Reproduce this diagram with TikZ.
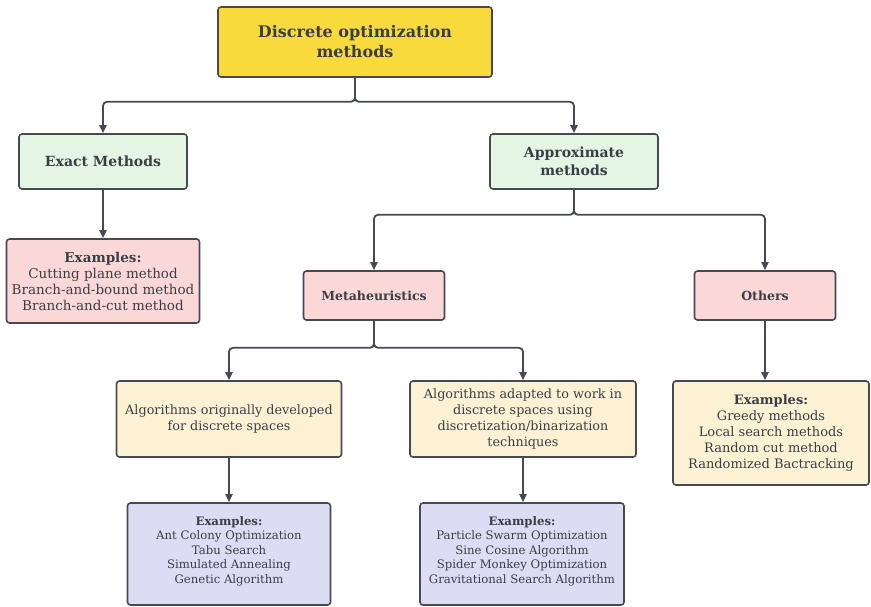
\documentclass[tikz,border=0pt]{standalone}
\usepackage{fontspec}
\setmainfont{DejaVu Serif}
\usetikzlibrary{arrows.meta}

\definecolor{inkc}{HTML}{3B3E47}
\definecolor{edgec}{HTML}{464952}
\definecolor{yellowc}{HTML}{F9DA3D}
\definecolor{greenc}{HTML}{E4F5E4}
\definecolor{pinkc}{HTML}{FBD8D8}
\definecolor{creamc}{HTML}{FCF1D3}
\definecolor{lavc}{HTML}{DCDCF4}

\tikzset{
  box/.style={draw=edgec, line width=1.6pt, rounded corners=3pt, text=inkc,
    align=center, inner sep=2pt, font=\fontsize{13}{16}\selectfont},
  headbox/.style={box, font=\bfseries\fontsize{14}{18}\selectfont},
  link/.style={draw=edgec, line width=1.8pt, rounded corners=4pt,
    -{Triangle[length=8pt,width=7pt]}},
}

\begin{document}
\begin{tikzpicture}[x=1pt,y=-1pt]
\useasboundingbox (0,0) rectangle (871,606);

% level 0
\node[headbox, fill=yellowc, minimum width=274pt, minimum height=70pt,
  font=\bfseries\fontsize{16}{20}\selectfont] (top) at (355,42)
  {Discrete optimization\\methods};

% level 1
\node[headbox, fill=greenc, minimum width=168pt, minimum height=55pt]
  (exact) at (103,161.5) {Exact Methods};
\node[headbox, fill=greenc, minimum width=168pt, minimum height=55pt]
  (approx) at (574,161.5) {Approximate\\methods};

% exact examples
\node[box, fill=pinkc, minimum width=193pt, minimum height=84pt,
  font=\fontsize{13.5}{16}\selectfont]
  (exex) at (103,281)
  {\textbf{Examples:}\\Cutting plane method\\Branch-and-bound method\\Branch-and-cut method};

% level 2
\node[box, fill=pinkc, minimum width=141pt, minimum height=49pt,
  font=\bfseries\fontsize{12.5}{15.5}\selectfont]
  (meta) at (374,295.5) {Metaheuristics};
\node[box, fill=pinkc, minimum width=141pt, minimum height=49pt,
  font=\bfseries\fontsize{12.5}{15.5}\selectfont]
  (others) at (765,295.5) {Others};

% level 3
\node[box, fill=creamc, minimum width=225pt, minimum height=76pt,
  font=\fontsize{12.8}{16}\selectfont]
  (orig) at (229,419) {Algorithms originally developed\\for discrete spaces};
\node[box, fill=creamc, minimum width=226pt, minimum height=76pt,
  font=\fontsize{12.8}{16}\selectfont]
  (adapt) at (523,419)
  {Algorithms adapted to work in\\discrete spaces using\\discretization/binarization\\techniques};
\node[box, fill=creamc, minimum width=196pt, minimum height=104pt]
  (othex) at (771,433)
  {\textbf{Examples:}\\Greedy methods\\Local search methods\\Random cut method\\Randomized Bactracking};

% level 4
\node[box, fill=lavc, minimum width=203pt, minimum height=102pt,
  font=\fontsize{11.7}{14.5}\selectfont]
  (exorig) at (229,554)
  {\textbf{Examples:}\\Ant Colony Optimization\\Tabu Search\\Simulated Annealing\\Genetic Algorithm\\[-6pt]};
\node[box, fill=lavc, minimum width=204pt, minimum height=102pt,
  font=\fontsize{11.7}{14.5}\selectfont]
  (exadapt) at (522,554)
  {\textbf{Examples:}\\Particle Swarm Optimization\\Sine Cosine Algorithm\\Spider Monkey Optimization\\Gravitational Search Algorithm\\[-6pt]};

% connectors
\draw[link] (top.south) -- ++(0,24) -| (exact.north);
\draw[link] (top.south) -- ++(0,24) -| (approx.north);
\draw[link] (exact.south) -- (exex.north);
\draw[link] (approx.south) -- ++(0,25) -| (meta.north);
\draw[link] (approx.south) -- ++(0,25) -| (others.north);
\draw[link] (meta.south) -- ++(0,27) -| (orig.north);
\draw[link] (meta.south) -- ++(0,27) -| (adapt.north);
\draw[link] (others.south) -- (others.south |- othex.north);
\draw[link] (orig.south) -- (exorig.north);
\draw[link] (adapt.south) -- (adapt.south |- exadapt.north);
\end{tikzpicture}
\end{document}
